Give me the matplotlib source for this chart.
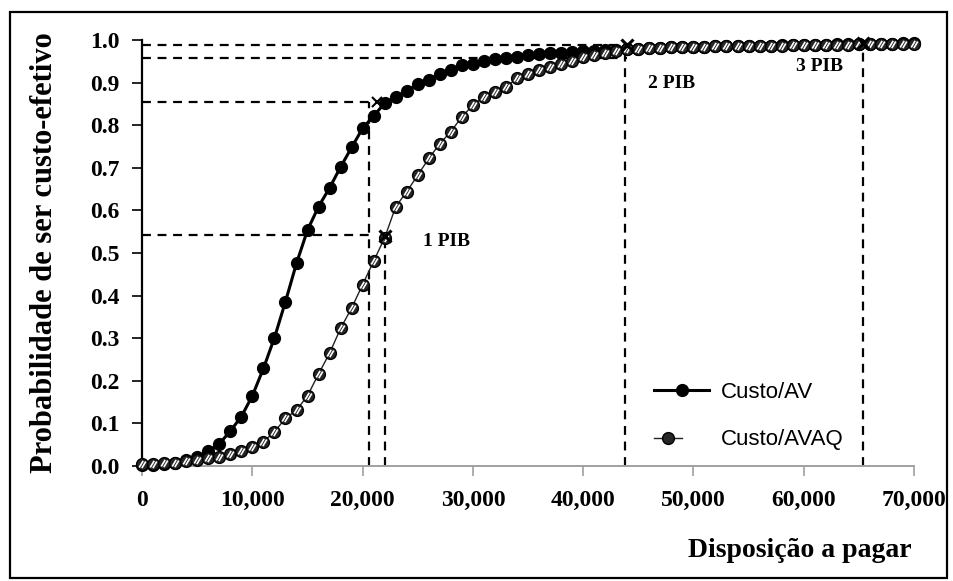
import matplotlib
matplotlib.use("Agg")
import matplotlib.pyplot as plt
import numpy as np
from matplotlib.path import Path
from matplotlib.patches import Rectangle
from matplotlib.legend_handler import HandlerTuple
from matplotlib.ticker import FuncFormatter

# willingness to pay (every 1000)
wtp = list(range(0, 71000, 1000))

# probability of being cost-effective, cost per life-year
custo_av = [0.002, 0.003, 0.004, 0.006, 0.013, 0.022, 0.034, 0.052, 0.082, 0.116,
            0.165, 0.229, 0.301, 0.386, 0.476, 0.554, 0.609, 0.653, 0.702, 0.748,
            0.793, 0.822, 0.852, 0.867, 0.881, 0.896, 0.907, 0.921, 0.930, 0.941,
            0.945, 0.950, 0.955, 0.957, 0.961, 0.965, 0.967, 0.969, 0.970, 0.972,
            0.974, 0.975, 0.976, 0.977, 0.979, 0.980, 0.981, 0.982, 0.983, 0.983,
            0.984, 0.984, 0.985, 0.985, 0.986, 0.986, 0.987, 0.987, 0.988, 0.988,
            0.989, 0.989, 0.989, 0.990, 0.990, 0.990, 0.991, 0.991, 0.991, 0.992,
            0.992]

# cost per QALY
custo_avaq = [0.004, 0.005, 0.006, 0.007, 0.011, 0.015, 0.019, 0.022, 0.028, 0.034,
              0.045, 0.057, 0.080, 0.112, 0.131, 0.165, 0.216, 0.265, 0.323, 0.371,
              0.426, 0.481, 0.536, 0.609, 0.644, 0.683, 0.722, 0.757, 0.785, 0.820,
              0.847, 0.867, 0.879, 0.890, 0.910, 0.920, 0.930, 0.937, 0.944, 0.951,
              0.960, 0.966, 0.970, 0.974, 0.978, 0.980, 0.981, 0.982, 0.983, 0.983,
              0.984, 0.984, 0.985, 0.985, 0.986, 0.986, 0.987, 0.987, 0.987, 0.988,
              0.988, 0.988, 0.989, 0.989, 0.989, 0.990, 0.990, 0.990, 0.991, 0.991,
              0.991]

# threshold markers (x, y) and their labels
pib_x = [22000, 44000, 65400]
pib_y = [0.540, 0.988, 0.994]
pib_labels = ["1 PIB", "2 PIB", "3 PIB"]
pib_text_pos = [(25500, 0.528), (45900, 0.898), (59300, 0.937)]
av_mark = (21300, 0.855)

# dashed guide lines: (x0, x1, y0, y1)
guides = [
    (0, 20600, 0.542, 0.542),
    (20600, 20600, 0.0, 0.855),
    (0, 20900, 0.855, 0.855),
    (22000, 22000, 0.0, 0.540),
    (0, 44000, 0.957, 0.957),
    (0, 44000, 0.988, 0.988),
    (43800, 43800, 0.0, 0.988),
    (65400, 65400, 0.0, 0.994),
]

serif = ["Liberation Serif", "DejaVu Serif"]

fig = plt.figure(figsize=(9.54, 5.81), dpi=100)
ax = fig.add_axes([0.149, 0.198, 0.809, 0.733])

for x0, x1, y0, y1 in guides:
    ax.plot([x0, x1], [y0, y1], ls=(0, (4, 3)), color="black", lw=1.6, zorder=2)

# two white stripes drawn over the circle marker
stripes = Path([(-0.5, -0.45), (0.1, 0.55), (-0.1, -0.55), (0.5, 0.45)],
               [Path.MOVETO, Path.LINETO, Path.MOVETO, Path.LINETO])

l_av, = ax.plot(wtp, custo_av, color="black", lw=2.2, marker="o", ms=8.5,
                mfc="black", mec="black", zorder=3)
l_avaq, = ax.plot(wtp, custo_avaq, color="#222222", lw=1.0, marker="o", ms=8.5,
                  mfc="#262626", mec="black", mew=1.0, zorder=4)
l_str, = ax.plot(wtp, custo_avaq, ls="none", marker=stripes, ms=5.2,
                 mec="white", mew=1.2, zorder=5)

ax.plot(pib_x, pib_y, ls="none", marker="x", ms=8, mew=2.2, color="black", zorder=6)
ax.plot([av_mark[0]], [av_mark[1]], ls="none", marker="x", ms=7, mew=1.5,
        color="black", zorder=6)

for (tx, ty), lab in zip(pib_text_pos, pib_labels):
    ax.text(tx, ty, lab, family=serif, fontweight="bold", fontsize=14,
            va="center", ha="left")

ax.set_xlim(0, 70000)
ax.set_ylim(0, 1.0)
ax.set_xticks(np.arange(0, 70001, 10000))
ax.set_yticks(np.arange(0, 1.01, 0.1))
ax.xaxis.set_major_formatter(FuncFormatter(lambda v, p: f"{int(v):,}"))
ax.yaxis.set_major_formatter(FuncFormatter(lambda v, p: f"{v:.1f}"))

for lab in ax.get_xticklabels() + ax.get_yticklabels():
    lab.set_family(serif)
    lab.set_fontweight("bold")
    lab.set_fontsize(17)

ax.tick_params(axis="y", direction="out", length=7, width=1.2, color="black", pad=9)
ax.tick_params(axis="x", direction="out", length=7, width=1.2, color="#a0a0a0", pad=10)

ax.spines["top"].set_visible(False)
ax.spines["right"].set_visible(False)
ax.spines["left"].set_linewidth(1.6)
ax.spines["bottom"].set_color("#a0a0a0")
ax.spines["bottom"].set_linewidth(1.4)
for ln in ax.lines:
    ln.set_clip_on(False)

ax.set_ylabel("Probabilidade de ser custo-efetivo", family=serif,
              fontweight="bold", fontsize=22)
ax.yaxis.set_label_coords(-0.108, 0.5)
ax.set_xlabel("Disposição a pagar", family=serif, fontweight="bold", fontsize=20)
ax.xaxis.set_label_coords(0.852, -0.168)

leg = ax.legend([l_av, (l_avaq, l_str)], ["Custo/AV", "Custo/AVAQ"],
                handler_map={tuple: HandlerTuple(ndivide=None)},
                loc="upper left", bbox_to_anchor=(0.663, 0.198), frameon=False,
                prop={"family": "Liberation Sans", "size": 16},
                borderpad=0, borderaxespad=0,
                handlelength=2.5, labelspacing=1.2, handletextpad=0.5)

fig.patches.append(Rectangle((0.011, 0.006), 0.982, 0.974, transform=fig.transFigure,
                             fill=False, edgecolor="black", lw=1.6))

fig.savefig("out.png", dpi=100)
